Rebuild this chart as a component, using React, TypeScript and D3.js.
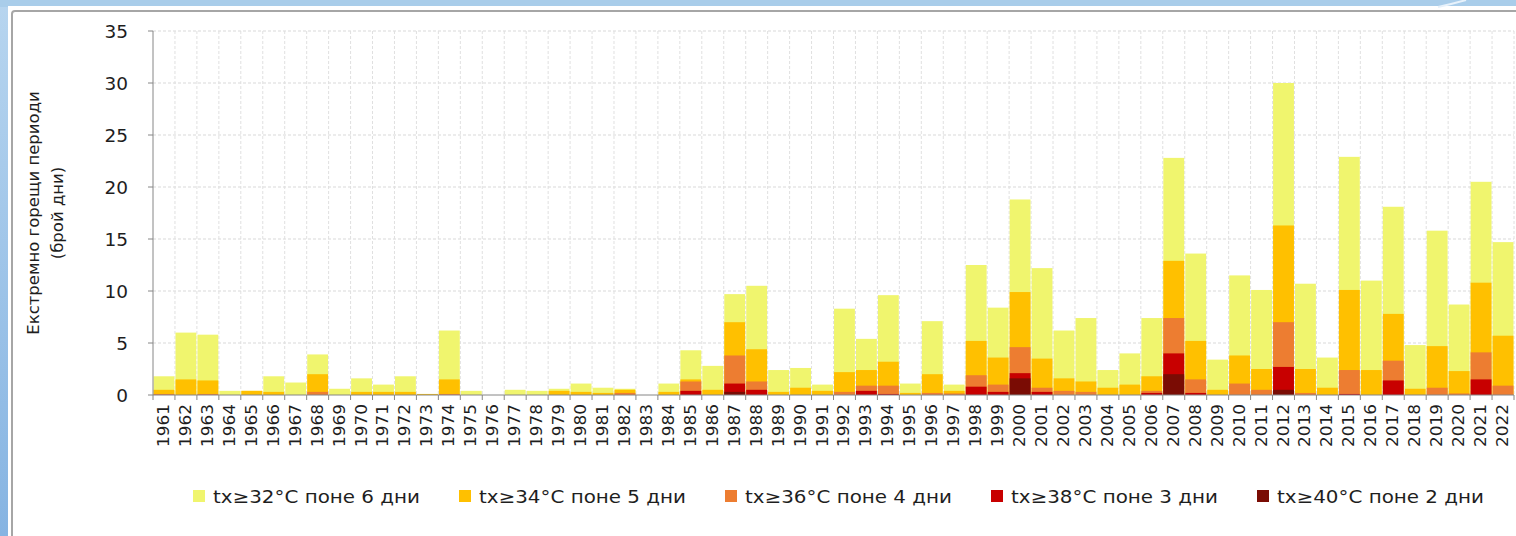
import React, { useEffect, useRef } from 'react';
import * as d3 from 'd3';

// years on the x axis
const years = [
  '1961', '1962', '1963', '1964', '1965', '1966', '1967', '1968', '1969', '1970',
  '1971', '1972', '1973', '1974', '1975', '1976', '1977', '1978', '1979', '1980',
  '1981', '1982', '1983', '1984', '1985', '1986', '1987', '1988', '1989', '1990',
  '1991', '1992', '1993', '1994', '1995', '1996', '1997', '1998', '1999', '2000',
  '2001', '2002', '2003', '2004', '2005', '2006', '2007', '2008', '2009', '2010',
  '2011', '2012', '2013', '2014', '2015', '2016', '2017', '2018', '2019', '2020',
  '2021', '2022',
];

// number of days per threshold (each series drawn from zero, overlaid)
const tx32 = [
  1.8, 6.0, 5.8, 0.4, 0.4, 1.8, 1.2, 3.9, 0.6, 1.6,
  1.0, 1.8, 0.1, 6.2, 0.4, 0, 0.5, 0.4, 0.6, 1.1,
  0.7, 0.6, 0, 1.1, 4.3, 2.8, 9.7, 10.5, 2.4, 2.6,
  1.0, 8.3, 5.4, 9.6, 1.1, 7.1, 1.0, 12.5, 8.4, 18.8,
  12.2, 6.2, 7.4, 2.4, 4.0, 7.4, 22.8, 13.6, 3.4, 11.5,
  10.1, 30.0, 10.7, 3.6, 22.9, 11.0, 18.1, 4.8, 15.8, 8.7,
  20.5, 14.7,
];
const tx34 = [
  0.5, 1.5, 1.4, 0, 0.4, 0.3, 0, 2.0, 0, 0.3,
  0.3, 0.3, 0.1, 1.5, 0, 0, 0, 0, 0.4, 0.3,
  0.2, 0.5, 0, 0.3, 1.5, 0.5, 7.0, 4.4, 0.3, 0.7,
  0.4, 2.2, 2.4, 3.2, 0.2, 2.0, 0.4, 5.2, 3.6, 9.9,
  3.5, 1.6, 1.3, 0.7, 1.0, 1.8, 12.9, 5.2, 0.5, 3.8,
  2.5, 16.3, 2.5, 0.7, 10.1, 2.4, 7.8, 0.6, 4.7, 2.3,
  10.8, 5.7,
];
const tx36 = [
  0.1, 0, 0.1, 0, 0, 0, 0, 0.3, 0, 0,
  0, 0, 0, 0.1, 0, 0, 0, 0, 0, 0,
  0, 0.2, 0, 0, 1.3, 0, 3.8, 1.3, 0, 0,
  0, 0.3, 0.9, 0.9, 0, 0.2, 0.15, 1.9, 1.0, 4.6,
  0.7, 0.4, 0.3, 0, 0, 0.4, 7.4, 1.5, 0, 1.1,
  0.5, 7.0, 0.2, 0, 2.4, 0, 3.3, 0, 0.7, 0.15,
  4.1, 0.9,
];
const tx38 = [
  0, 0, 0, 0, 0, 0, 0, 0, 0, 0,
  0, 0, 0, 0, 0, 0, 0, 0, 0, 0,
  0, 0, 0, 0, 0.4, 0, 1.1, 0.5, 0, 0,
  0, 0, 0.4, 0.1, 0, 0, 0, 0.8, 0.3, 2.1,
  0.3, 0, 0, 0, 0, 0.2, 4.0, 0.2, 0, 0,
  0, 2.7, 0, 0, 0.1, 0, 1.4, 0, 0, 0,
  1.5, 0,
];
const tx40 = [
  0, 0, 0, 0, 0, 0, 0, 0, 0, 0,
  0, 0, 0, 0, 0, 0, 0, 0, 0, 0,
  0, 0, 0, 0, 0, 0, 0.3, 0, 0, 0,
  0, 0, 0, 0, 0, 0, 0, 0, 0, 1.6,
  0, 0, 0, 0, 0, 0, 2.0, 0, 0, 0,
  0, 0.5, 0, 0, 0, 0, 0, 0, 0, 0,
  0, 0,
];

const seriesLabels = [
  'tx≥32°C поне 6 дни',
  'tx≥34°C поне 5 дни',
  'tx≥36°C поне 4 дни',
  'tx≥38°C поне 3 дни',
  'tx≥40°C поне 2 дни',
];
const seriesColors = ['#f0f56e', '#ffc000', '#ed7d31', '#c80000', '#7a0c04'];
const yTicks = [0, 5, 10, 15, 20, 25, 30, 35];

const W = 1516;
const H = 536;

const Chart: React.FC = () => {
  const svgRef = useRef<SVGSVGElement>(null);

  useEffect(() => {
    if (!svgRef.current) return;
    const svg = d3.select(svgRef.current);
    svg.selectAll('*').remove();

    const font = '"DejaVu Sans", Verdana, sans-serif';
    const textColor = '#1e1e1e';
    const left = 153;
    const right = 1514;
    const top = 31;
    const bottom = 395;

    const x = d3.scaleBand<string>().domain(years).range([left, right]).paddingInner(0.05).paddingOuter(0.025);
    const y = d3.scaleLinear().domain([0, 35]).range([bottom, top]);
    const step = x.step();
    const boundaries = years.map((_, i) => left + i * step).concat([right]);

    // slide frame
    const defs = svg.append('defs');
    const grad = defs.append('linearGradient').attr('id', 'frameLeft').attr('x1', 0).attr('y1', 0).attr('x2', 0).attr('y2', 1);
    grad.append('stop').attr('offset', '0%').attr('stop-color', '#b7d5ef');
    grad.append('stop').attr('offset', '100%').attr('stop-color', '#86b4e2');
    svg.append('rect').attr('x', 0).attr('y', 0).attr('width', W).attr('height', H).attr('fill', 'url(#frameLeft)');
    svg.append('rect').attr('x', 0).attr('y', 0).attr('width', W).attr('height', 7).attr('fill', '#a9cdea');
    svg.append('rect').attr('x', 8).attr('y', 6).attr('width', W).attr('height', H).attr('fill', '#ffffff');
    svg.append('path')
      .attr('d', `M12,${H + 10} L12,14 Q12,11 15,11 L${W + 10},11`)
      .attr('fill', 'none')
      .attr('stroke', '#a6a6a6')
      .attr('stroke-width', 2);
    svg.append('path')
      .attr('d', 'M1438,7 Q1452,4 1466,0')
      .attr('fill', 'none')
      .attr('stroke', '#e8f2fb')
      .attr('stroke-width', 2);

    const g = svg.append('g');

    // grid lines
    g.selectAll('.hgrid')
      .data(yTicks.filter(t => t > 0))
      .enter()
      .append('line')
      .attr('x1', left)
      .attr('x2', right)
      .attr('y1', d => y(d))
      .attr('y2', d => y(d))
      .attr('stroke', '#d9d9d9')
      .attr('stroke-dasharray', '3,2');
    g.selectAll('.vgrid')
      .data(boundaries.slice(1))
      .enter()
      .append('line')
      .attr('x1', d => d)
      .attr('x2', d => d)
      .attr('y1', top)
      .attr('y2', bottom)
      .attr('stroke', '#e0e0e0')
      .attr('stroke-dasharray', '3,2');

    // bars, largest series at the back
    const allSeries = [tx32, tx34, tx36, tx38, tx40];
    allSeries.forEach((vals, si) => {
      g.selectAll(`.bar${si}`)
        .data(vals.map((v, i) => ({ year: years[i], v })).filter(d => d.v > 0))
        .enter()
        .append('rect')
        .attr('x', d => x(d.year) as number)
        .attr('width', x.bandwidth())
        .attr('y', d => y(d.v))
        .attr('height', d => bottom - y(d.v))
        .attr('fill', seriesColors[si]);
    });

    // axes
    g.append('line').attr('x1', left).attr('x2', left).attr('y1', top).attr('y2', bottom).attr('stroke', '#868686');
    g.append('line').attr('x1', left).attr('x2', right).attr('y1', bottom).attr('y2', bottom).attr('stroke', '#868686');
    g.selectAll('.ytick')
      .data(yTicks)
      .enter()
      .append('line')
      .attr('x1', left - 5)
      .attr('x2', left)
      .attr('y1', d => y(d))
      .attr('y2', d => y(d))
      .attr('stroke', '#868686');
    g.selectAll('.xtick')
      .data(boundaries)
      .enter()
      .append('line')
      .attr('x1', d => d)
      .attr('x2', d => d)
      .attr('y1', bottom)
      .attr('y2', bottom + 5)
      .attr('stroke', '#868686');

    g.selectAll('.ylab')
      .data(yTicks)
      .enter()
      .append('text')
      .attr('x', 128)
      .attr('y', d => y(d))
      .attr('dy', '0.36em')
      .attr('text-anchor', 'end')
      .style('font-family', font)
      .style('font-size', '18.5px')
      .style('fill', textColor)
      .text(d => String(d));

    g.selectAll('.xlab')
      .data(years)
      .enter()
      .append('text')
      .attr('transform', d => `translate(${(x(d) as number) + x.bandwidth() / 2 + 5},404) rotate(-90)`)
      .attr('text-anchor', 'end')
      .style('font-family', font)
      .style('font-size', '16px')
      .style('fill', textColor)
      .attr('textLength', 43)
      .attr('lengthAdjust', 'spacingAndGlyphs')
      .text(d => d);

    // y axis title
    const title = g.append('text')
      .attr('transform', `translate(39,${(top + bottom) / 2}) rotate(-90)`)
      .attr('text-anchor', 'middle')
      .style('font-family', font)
      .style('font-size', '16.5px')
      .style('fill', textColor);
    title.append('tspan').attr('x', 0).attr('dy', 0).text('Екстремно горещи периоди');
    title.append('tspan').attr('x', 0).attr('dy', 24).text('(брой дни)');

    // legend
    const legend = g.append('g').attr('transform', 'translate(193,497)');
    seriesLabels.forEach((label, i) => {
      const item = legend.append('g').attr('transform', `translate(${i * 266},0)`);
      item.append('rect').attr('x', 0).attr('y', -7).attr('width', 12).attr('height', 12).attr('fill', seriesColors[i]);
      item.append('text')
        .attr('x', 20)
        .attr('y', 0)
        .attr('dy', '0.35em')
        .style('font-family', font)
        .style('font-size', '17px')
        .style('fill', textColor)
        .attr('textLength', 207)
        .attr('lengthAdjust', 'spacingAndGlyphs')
        .text(label);
    });
  }, []);

  return <svg ref={svgRef} width={W} height={H} style={{ display: 'block' }} />;
};

export default function App() {
  return (
    <div style={{ position: 'absolute', left: 0, top: 0, width: W, height: H, overflow: 'hidden' }}>
      <Chart />
    </div>
  );
}
